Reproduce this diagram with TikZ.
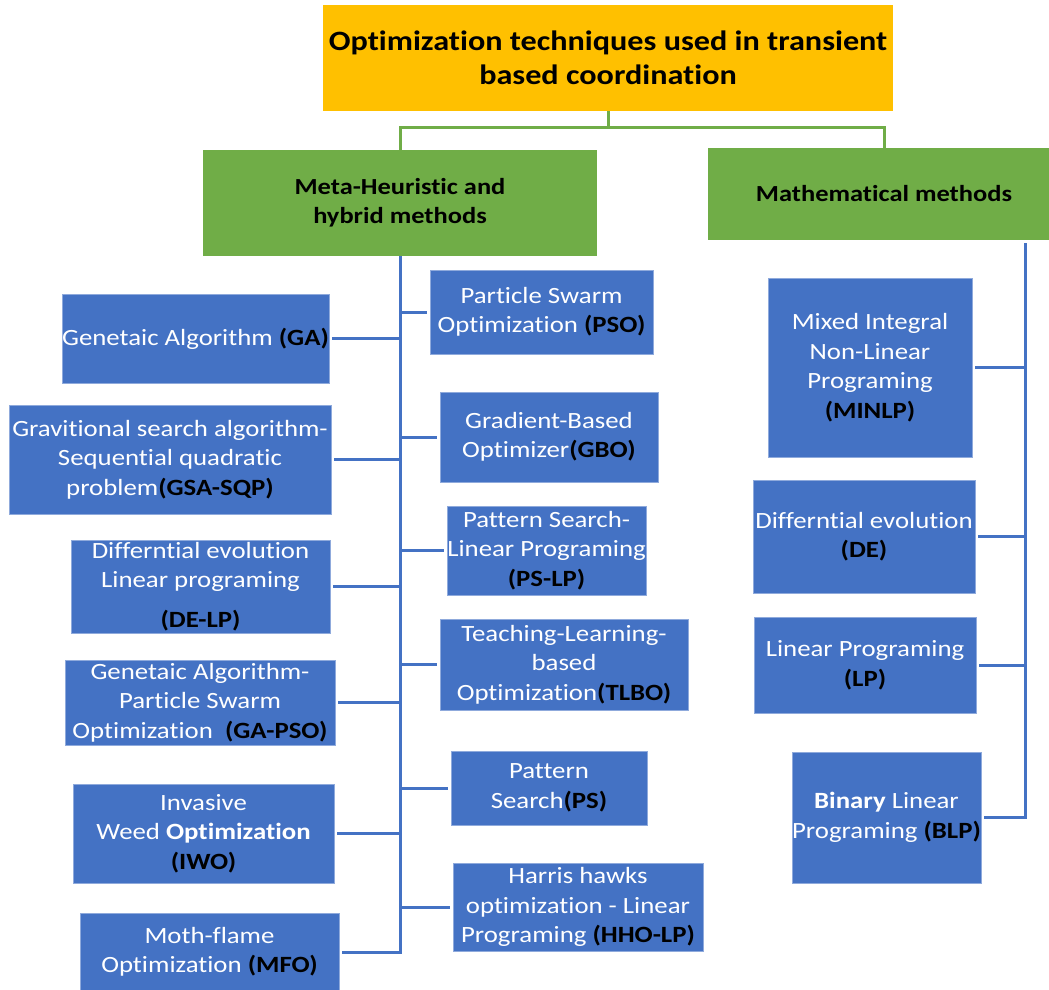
\documentclass[tikz,border=0pt]{standalone}
\usepackage{fontspec}
\setmainfont{Carlito}[FakeStretch=1.15,Ligatures=NoCommon]
\definecolor{orangeT}{HTML}{FFC000}
\definecolor{greenH}{HTML}{70AD47}
\definecolor{blueB}{HTML}{4472C4}
\definecolor{blueEdge}{HTML}{8FAADC}
\newcommand{\ab}[1]{\textbf{\color{black}#1}}
\begin{document}
\begin{tikzpicture}[x=1pt,y=-1pt,
  titlebox/.style={fill=orangeT,inner sep=0pt,align=center,font=\fontsize{28}{34}\selectfont\bfseries},
  headbox/.style={fill=greenH,inner sep=0pt,align=center,font=\fontsize{23}{29}\selectfont\bfseries},
  leaf/.style={fill=blueB,draw=blueEdge,line width=0.8pt,inner sep=0pt,align=center,text=white,font=\fontsize{23.3}{29.5}\selectfont},
  gline/.style={draw=greenH,line width=3pt},
  bline/.style={draw=blueB,line width=3pt},
]
\useasboundingbox (0,0) rectangle (1049,989);
% title and headings
\node[titlebox,minimum width=570pt,minimum height=106pt] (title) at (608,58) {Optimization techniques used in transient\\based coordination};
\node[headbox,minimum width=394pt,minimum height=106pt] (meta) at (400,203) {Meta-Heuristic and\\hybrid methods};
\node[headbox,minimum width=352pt,minimum height=92pt] (math) at (884,194) {Mathematical methods};
\coordinate (tj) at (608,127);
\draw[gline] (title.south) -- (tj) -| (meta.north);
\draw[gline] (tj) -| (math.north);
% left column
\node[leaf,minimum width=267pt,minimum height=89pt] (ga) at (195.5,338.5) {Genetaic Algorithm \ab{(GA)}};
\node[leaf,minimum width=322pt,minimum height=109pt] (gsa) at (170,459.5) {Gravitional search algorithm-\\Sequential quadratic\\problem\ab{(GSA-SQP)}};
\node[leaf,minimum width=259pt,minimum height=93pt] (delp) at (200.5,586.5) {Differntial evolution\\Linear programing\\[10pt]\ab{(DE-LP)}};
\node[leaf,minimum width=270pt,minimum height=85pt] (gapso) at (200,702.5) {Genetaic Algorithm-\\Particle Swarm\\Optimization\ \ \ab{(GA-PSO)}};
\node[leaf,minimum width=261pt,minimum height=99pt] (iwo) at (203.5,833.5) {Invasive\\Weed \textbf{Optimization}\\\ab{(IWO)}};
\node[leaf,minimum width=259pt,minimum height=78pt] (mfo) at (209.5,952) {Moth-flame\\Optimization \ab{(MFO)}};
% middle column
\node[leaf,minimum width=223pt,minimum height=84pt] (pso) at (541.5,312) {Particle Swarm\\Optimization \ab{(PSO)}};
\node[leaf,minimum width=218pt,minimum height=90pt] (gbo) at (549,437) {Gradient-Based\\Optimizer\ab{(GBO)}};
\node[leaf,minimum width=199pt,minimum height=89pt] (pslp) at (546.5,550.5) {Pattern Search-\\Linear Programing\\\ab{(PS-LP)}};
\node[leaf,minimum width=248pt,minimum height=91pt] (tlbo) at (564,664.5) {Teaching-Learning-\\based\\Optimization\ab{(TLBO)}};
\node[leaf,minimum width=196pt,minimum height=74pt] (ps) at (549,788) {Pattern\\Search\ab{(PS)}};
\node[leaf,minimum width=250pt,minimum height=88pt] (hho) at (578,907) {Harris hawks\\optimization - Linear\\Programing \ab{(HHO-LP)}};
% right column
\node[leaf,minimum width=204pt,minimum height=179pt] (minlp) at (870,367.5) {Mixed Integral\\Non-Linear\\Programing\\\ab{(MINLP)}};
\node[leaf,minimum width=222pt,minimum height=113pt] (de) at (864,536.5) {Differntial evolution\\\ab{(DE)}};
\node[leaf,minimum width=222pt,minimum height=96pt] (lp) at (865,665) {Linear Programing\\\ab{(LP)}};
\node[leaf,minimum width=189pt,minimum height=131pt] (blp) at (886.5,817.5) {\textbf{Binary} Linear\\Programing \ab{(BLP)}};
% left trunk
\coordinate (lt) at (meta.south);
\draw[bline] (lt) -- (lt |- mfo.east) -- ([xshift=3pt]mfo.east);
\foreach \n in {ga,gsa,delp,gapso,iwo}{
  \draw[bline] ([xshift=3pt]\n.east) -- (\n.east -| lt);
}
\foreach \n in {pso,gbo,pslp,tlbo,ps,hho}{
  \draw[bline] ([xshift=-3pt]\n.west) -- (\n.west -| lt);
}
% right trunk
\coordinate (rt) at (1025,243);
\draw[bline] (rt) -- (rt |- blp.east) -- ([xshift=3pt]blp.east);
\foreach \n in {minlp,de,lp}{
  \draw[bline] ([xshift=3pt]\n.east) -- (\n.east -| rt);
}
\end{tikzpicture}
\end{document}
